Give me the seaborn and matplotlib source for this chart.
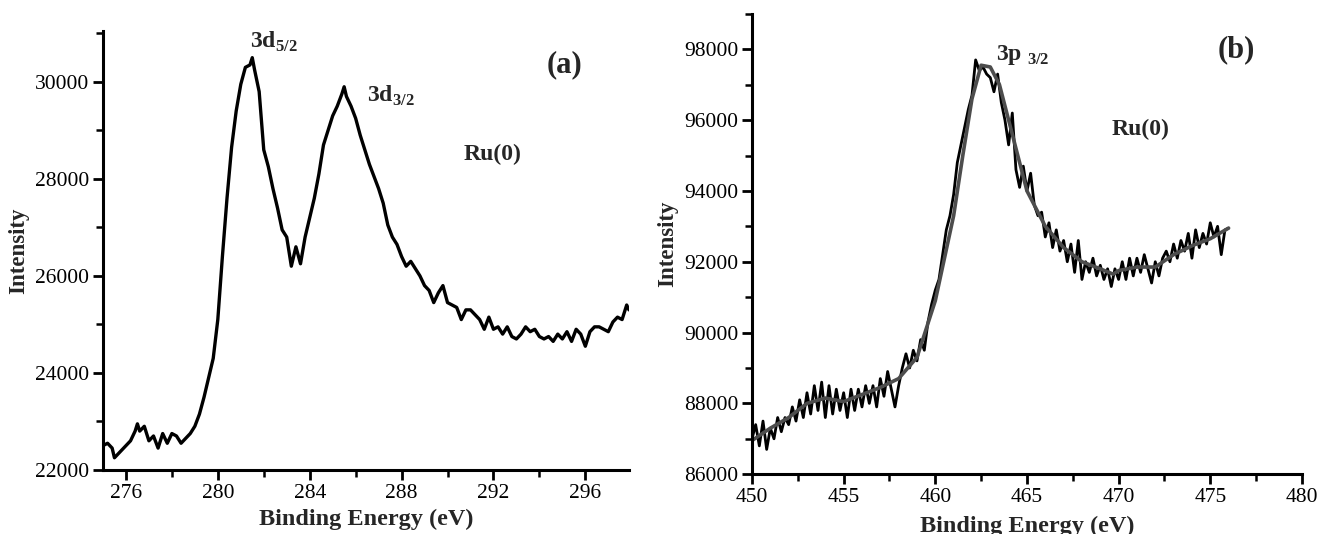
import numpy as np
import pandas as pd
import seaborn as sns
import matplotlib.pyplot as plt
from matplotlib.ticker import MultipleLocator

# panel (a): Ru 3d region, every 0.2 eV
ru3d_energy = [275.0, 275.2, 275.4, 275.5, 275.7, 276.0, 276.2, 276.4, 276.5, 276.6,
               276.8, 277.0, 277.2, 277.4, 277.6, 277.8, 278.0, 278.2, 278.4, 278.6,
               278.8, 279.0, 279.2, 279.4, 279.6, 279.8, 280.0, 280.2, 280.4, 280.6,
               280.8, 281.0, 281.2, 281.4, 281.5, 281.6, 281.8, 282.0, 282.2, 282.4,
               282.6, 282.8, 283.0, 283.2, 283.4, 283.6, 283.8, 284.0, 284.2, 284.4,
               284.6, 284.8, 285.0, 285.2, 285.4, 285.5, 285.6, 285.8, 286.0, 286.2,
               286.4, 286.6, 286.8, 287.0, 287.2, 287.4, 287.6, 287.8, 288.0, 288.2,
               288.4, 288.6, 288.8, 289.0, 289.2, 289.4, 289.6, 289.8, 290.0, 290.2,
               290.4, 290.6, 290.8, 291.0, 291.2, 291.4, 291.6, 291.8, 292.0, 292.2,
               292.4, 292.6, 292.8, 293.0, 293.2, 293.4, 293.6, 293.8, 294.0, 294.2,
               294.4, 294.6, 294.8, 295.0, 295.2, 295.4, 295.6, 295.8, 296.0, 296.2,
               296.4, 296.6, 296.8, 297.0, 297.2, 297.4, 297.6, 297.8, 297.9]
ru3d_counts = [22500, 22550, 22450, 22250, 22350, 22500, 22600, 22800, 22950, 22800,
               22900, 22600, 22700, 22450, 22750, 22550, 22750, 22700, 22550, 22650,
               22750, 22900, 23150, 23500, 23900, 24300, 25100, 26400, 27600, 28650,
               29400, 29950, 30300, 30350, 30500, 30250, 29800, 28600, 28250, 27800,
               27400, 26950, 26800, 26200, 26600, 26250, 26800, 27200, 27600, 28100,
               28700, 29000, 29300, 29500, 29750, 29900, 29700, 29500, 29250, 28900,
               28600, 28300, 28050, 27800, 27500, 27050, 26800, 26650, 26400, 26200,
               26300, 26150, 26000, 25800, 25700, 25450, 25650, 25800, 25450, 25400,
               25350, 25100, 25300, 25300, 25200, 25100, 24900, 25150, 24900, 24950,
               24800, 24950, 24750, 24700, 24800, 24950, 24850, 24900, 24750, 24700,
               24750, 24650, 24800, 24700, 24850, 24650, 24900, 24800, 24550, 24850,
               24950, 24950, 24900, 24850, 25050, 25150, 25100, 25400, 25300]

# panel (b): Ru 3p region, raw counts every 0.2 eV from 450 to 476
ru3p_counts = [87000, 87400, 86800, 87500, 86700, 87300, 87000, 87600, 87200, 87600,
               87400, 87900, 87500, 88100, 87600, 88300, 87700, 88500, 87800, 88600,
               87600, 88500, 87700, 88400, 87800, 88300, 87600, 88400, 87800, 88400,
               87900, 88500, 88000, 88500, 87900, 88700, 88200, 88900, 88400, 87900,
               88500, 89000, 89400, 89000, 89500, 89200, 89800, 89500, 90300, 90800,
               91200, 91500, 92200, 92900, 93300, 93900, 94800, 95300, 95800, 96300,
               96700, 97700, 97400, 97500, 97300, 97200, 96800, 97300, 96500, 96000,
               95300, 96200, 94600, 94100, 94700, 94000, 94500, 93600, 93300, 93400,
               92700, 93100, 92400, 92900, 92300, 92600, 92000, 92500, 91700, 92600,
               91500, 92000, 91700, 92100, 91600, 91900, 91500, 91800, 91300, 91800,
               91500, 92000, 91500, 92100, 91600, 92100, 91700, 92200, 91800, 91400,
               92000, 91600, 92100, 92300, 92000, 92500, 92100, 92600, 92300, 92800,
               92100, 92900, 92400, 92800, 92500, 93100, 92700, 93000, 92200, 92900,
               92950]
ru3p_energy = np.linspace(450, 476, len(ru3p_counts))

# smoothed fit drawn in grey
fit_energy = [450, 451, 452, 453, 454, 455, 456, 457, 458, 459, 460, 461, 461.5, 462,
              462.5, 463, 463.5, 464, 464.5, 465, 466, 467, 468, 469, 469.7, 470, 471,
              472, 473, 474, 475, 476]
fit_counts = [86950, 87300, 87600, 88000, 88150, 88050, 88250, 88450, 88700, 89300,
              90900, 93300, 95000, 96600, 97550, 97500, 97000, 96000, 95000, 94000,
              93000, 92400, 92000, 91800, 91650, 91750, 91850, 91850, 92200, 92450,
              92650, 92950]

sns.set_style("ticks")
plt.rcParams["font.family"] = ["Liberation Serif", "DejaVu Serif"]
plt.rcParams["mathtext.fontset"] = "custom"
plt.rcParams["mathtext.rm"] = "Liberation Serif"
plt.rcParams["mathtext.bf"] = "Liberation Serif:bold"

fig = plt.figure(figsize=(13.2, 5.34), dpi=100)
ax1 = fig.add_axes([0.078, 0.12, 0.3985, 0.822])
ax2 = fig.add_axes([0.5697, 0.112, 0.4166, 0.862])

df_a = pd.DataFrame({"energy": ru3d_energy, "counts": ru3d_counts})
sns.lineplot(data=df_a, x="energy", y="counts", ax=ax1, color="black", linewidth=2.4)

df_b = pd.DataFrame({"energy": ru3p_energy, "counts": ru3p_counts})
df_fit = pd.DataFrame({"energy": fit_energy, "counts": fit_counts})
sns.lineplot(data=df_b, x="energy", y="counts", ax=ax2, color="black", linewidth=2.0)
sns.lineplot(data=df_fit, x="energy", y="counts", ax=ax2, color="#4d4d4d", linewidth=2.6)

ax1.set_xlim(275, 297.9)
ax1.set_ylim(22000, 31050)
ax1.xaxis.set_major_locator(MultipleLocator(4))
ax1.xaxis.set_minor_locator(MultipleLocator(2))
ax1.yaxis.set_major_locator(MultipleLocator(2000))
ax1.yaxis.set_minor_locator(MultipleLocator(1000))

ax2.set_xlim(450, 480)
ax2.set_ylim(86000, 99000)
ax2.xaxis.set_major_locator(MultipleLocator(5))
ax2.xaxis.set_minor_locator(MultipleLocator(2.5))
ax2.yaxis.set_major_locator(MultipleLocator(2000))
ax2.yaxis.set_minor_locator(MultipleLocator(1000))

for ax in (ax1, ax2):
    sns.despine(ax=ax)
    for s in ("left", "bottom"):
        ax.spines[s].set_linewidth(2.2)
        ax.spines[s].set_color("black")
    ax.tick_params(which="major", direction="out", length=7, width=2.0,
                   labelsize=15.5, colors="black", pad=3)
    ax.tick_params(which="minor", direction="out", length=5, width=1.8, colors="black")
    ax.set_ylabel("Intensity", fontsize=16.5, fontweight="bold", labelpad=4)

ax1.set_xlabel("Binding Energy (eV)", fontsize=17.5, fontweight="bold", labelpad=4)
ax2.set_xlabel("Binding Energy (eV)", fontsize=17.5, fontweight="bold", labelpad=6)

ax1.text(281.4, 30700, r"3d$_{\mathbf{5/2}}$", fontsize=17, fontweight="bold", va="baseline")
ax1.text(286.5, 29600, r"3d$_{\mathbf{3/2}}$", fontsize=17, fontweight="bold", va="baseline")
ax1.text(290.7, 28500, "Ru(0)", fontsize=17, fontweight="bold", va="center")
ax1.text(294.3, 30350, "(a)", fontsize=22, fontweight="bold", va="center")

ax2.text(463.3, 97700, r"3p $_{\mathbf{3/2}}$", fontsize=17, fontweight="bold", va="baseline")
ax2.text(469.6, 95750, "Ru(0)", fontsize=17, fontweight="bold", va="center")
ax2.text(475.4, 98000, "(b)", fontsize=22, fontweight="bold", va="center")

fig.savefig("out.png", dpi=100)
